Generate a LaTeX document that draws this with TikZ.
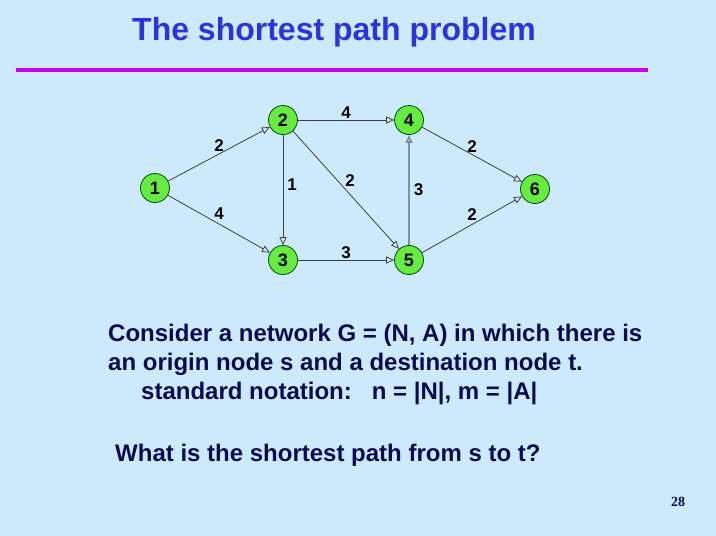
\documentclass[tikz,border=0pt]{standalone}
\usepackage{fontspec}
\setmainfont{Liberation Sans}
\newfontfamily\numfont{Liberation Serif}
\usepackage{xcolor}
\usetikzlibrary{arrows.meta, positioning}

\definecolor{slidebg}{RGB}{204,234,252}
\definecolor{titleblue}{RGB}{48,48,220}
\definecolor{rulemagenta}{RGB}{200,0,236}
\definecolor{textnavy}{RGB}{10,10,80}
\definecolor{nodegreen}{RGB}{102,236,64}
\definecolor{arcgray}{RGB}{128,144,162}

\begin{document}
\begin{tikzpicture}[
  x=1pt, y=-1pt,
  vertex/.style={circle, draw=green!30!black, line width=0.8pt, fill=nodegreen, minimum size=29pt, inner sep=0pt, font=\fontsize{18}{20}\selectfont\bfseries},
  arc/.style={-{Triangle[open, length=8pt, width=7pt]}, line width=0.8pt, draw=black!75},
  lbl/.style={font=\fontsize{17}{19}\selectfont\bfseries, inner sep=1pt},
  body/.style={font=\fontsize{24}{29}\selectfont\bfseries, text=textnavy, align=left, anchor=west, inner sep=0pt}
]

  % background and title
  \fill[slidebg] (0,0) rectangle (716,536);
  \useasboundingbox (0,0) rectangle (716,536);
  \node[font=\fontsize{32}{36}\selectfont\bfseries, text=titleblue] (title) at (334,32) {The shortest path problem};
  \draw[rulemagenta, line width=4pt] (16,70) -- (648,70);

  % network
  \node[vertex] (n1) at (155,188) {1};
  \node[vertex] (n2) at (283,120) {2};
  \node[vertex] (n3) at (283,260) {3};
  \node[vertex] (n4) at (409,120) {4};
  \node[vertex] (n5) at (409,260) {5};
  \node[vertex] (n6) at (535,189) {6};

  \draw[arc] (n1) -- node[lbl, above=1pt]{2} (n2);
  \draw[arc] (n1) -- node[lbl, above=3pt]{4} (n3);
  \draw[arc] (n2) -- node[lbl, above=0pt]{4} (n4);
  \draw[arc] (n2) -- node[lbl, right=3pt, pos=0.45]{1} (n3);
  \draw[arc] (n2) -- node[lbl, above right=0pt and 0pt, pos=0.48]{2} (n5);
  \draw[arc] (n3) -- node[lbl, above=0pt]{3} (n5);
  \draw[arc, draw=arcgray, line width=1.8pt] (n5) -- node[lbl, right=3pt]{3} (n4);
  \draw[arc] (n4) -- node[lbl, above=1pt]{2} (n6);
  \draw[arc] (n5) -- node[lbl, above=3pt]{2} (n6);

  % text
  \node[body] (txt) at (108,364) {Consider a network G = (N, A) in which there is\\an origin node s and a destination node t.\\\hspace*{33pt}standard notation:\hspace{20pt}n = |N|, m = |A|};
  \node[body] (quest) at (115,455) {What is the shortest path from s to t?};
  \node[font=\numfont\fontsize{14}{16}\selectfont\bfseries, text=textnavy] (pnum) at (678,502) {28};

\end{tikzpicture}
\end{document}
